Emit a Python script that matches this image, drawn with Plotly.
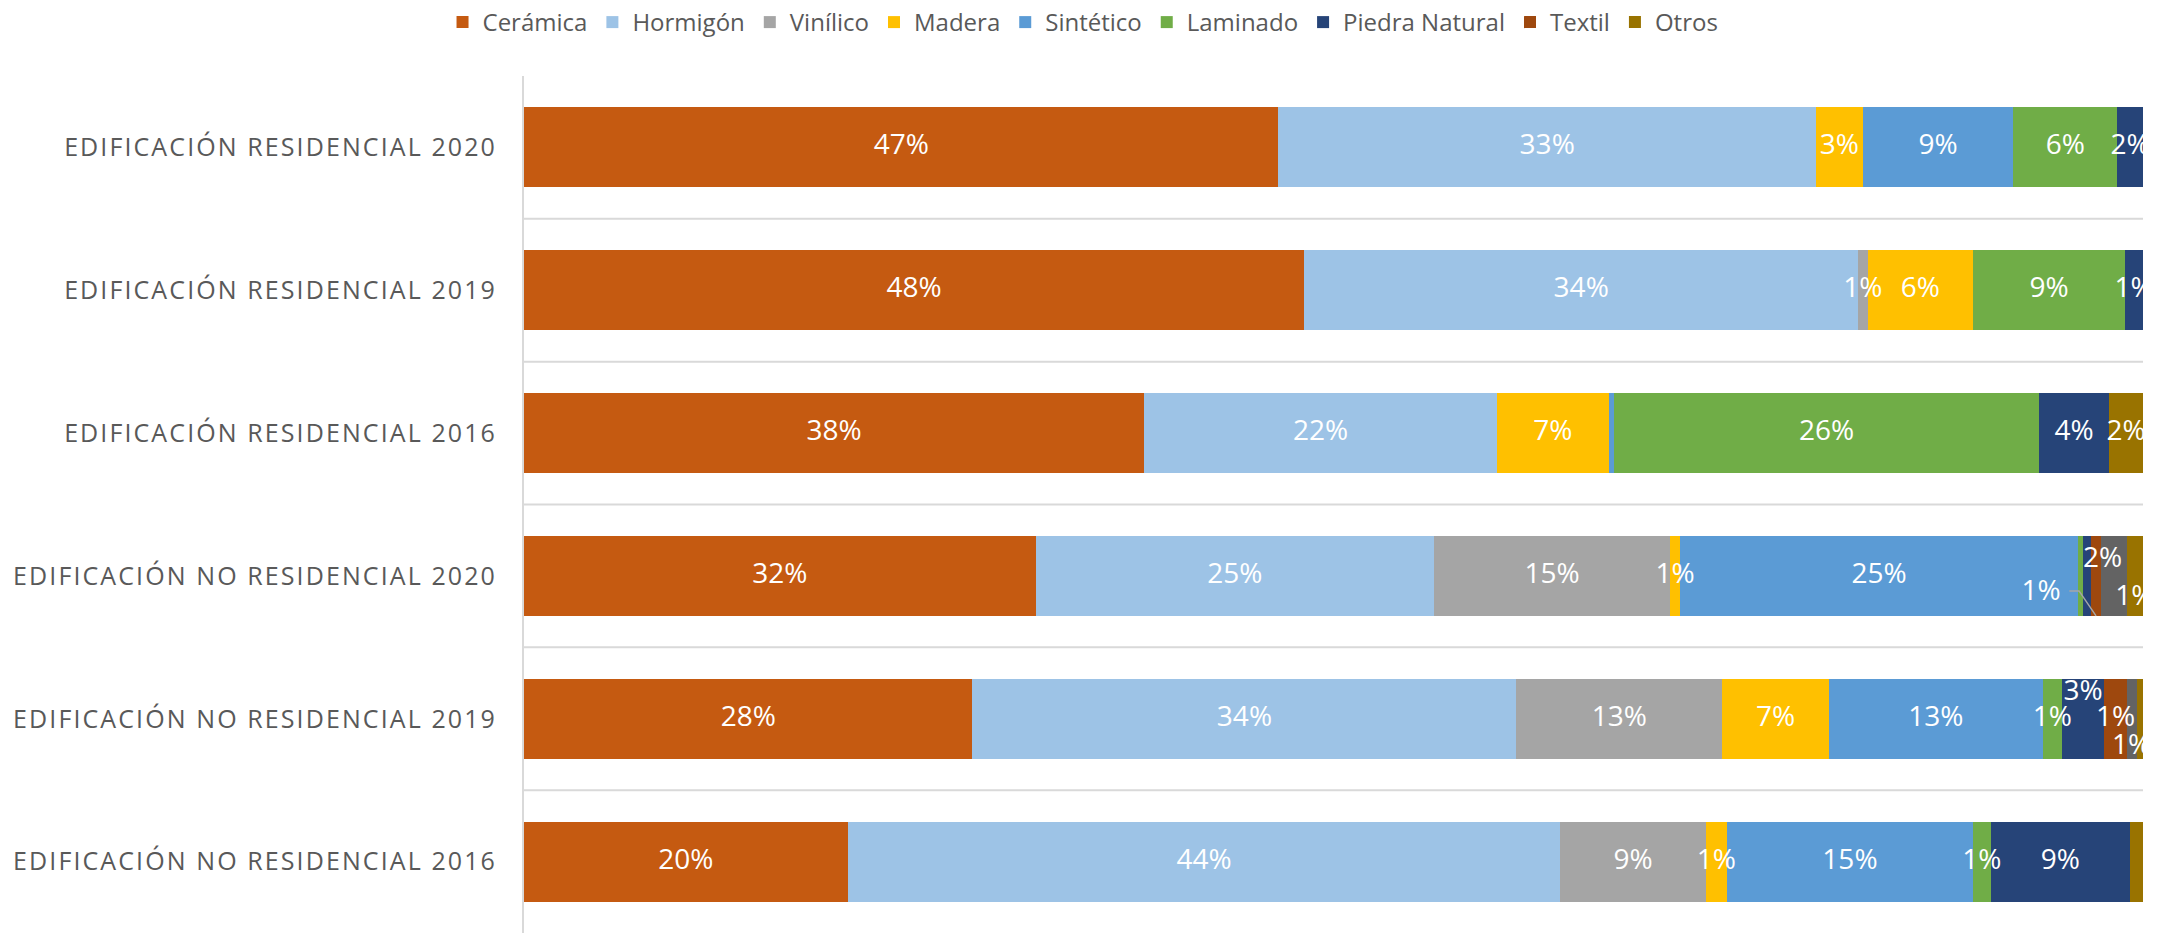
import plotly.graph_objects as go

# Rows, top to bottom
categories = [
    "EDIFICACIÓN RESIDENCIAL 2020",
    "EDIFICACIÓN RESIDENCIAL 2019",
    "EDIFICACIÓN RESIDENCIAL 2016",
    "EDIFICACIÓN NO RESIDENCIAL 2020",
    "EDIFICACIÓN NO RESIDENCIAL 2019",
    "EDIFICACIÓN NO RESIDENCIAL 2016",
]

# Share of each flooring material (%)
ceramica = [46.6, 48.2, 38.3, 31.6, 27.7, 20.0]
hormigon = [33.2, 34.2, 21.8, 24.6, 33.6, 44.0]
vinilico = [0.0, 0.6, 0.0, 14.6, 12.7, 9.0]
madera = [2.9, 6.5, 6.9, 0.6, 6.6, 1.3]
sintetico = [9.3, 0.0, 0.3, 24.6, 13.2, 15.2]
laminado = [6.4, 9.4, 26.3, 0.3, 1.2, 1.1]
piedra_natural = [1.6, 1.1, 4.3, 0.5, 2.6, 8.6]
textil = [0.0, 0.0, 0.0, 0.6, 1.4, 0.0]
resto = [0.0, 0.0, 0.0, 1.6, 0.6, 0.0]
otros = [0.0, 0.0, 2.1, 1.0, 0.4, 0.8]

series = [
    ("Cerámica", ceramica, "#C55A11", True),
    ("Hormigón", hormigon, "#9DC3E6", True),
    ("Vinílico", vinilico, "#A5A5A5", True),
    ("Madera", madera, "#FFC000", True),
    ("Sintético", sintetico, "#5B9BD5", True),
    ("Laminado", laminado, "#70AD47", True),
    ("Piedra Natural", piedra_natural, "#264478", True),
    ("Textil", textil, "#9E480E", True),
    ("Resto", resto, "#636363", False),
    ("Otros", otros, "#997300", True),
]

# labels that are left out, and labels moved off the segment centre (dx in %, dy in rows)
hidden = {(2, "Sintético"), (3, "Laminado"), (3, "Piedra Natural"), (4, "Otros"), (5, "Otros")}
moved = {
    (3, "Textil"): (-3.4, 0.12),
    (3, "Resto"): (-0.7, -0.11),
    (3, "Otros"): (0.0, 0.155),
    (4, "Piedra Natural"): (0.0, -0.18),
    (4, "Resto"): (0.0, 0.2),
}

BAR_W = 0.56
rows = list(range(len(categories)))

fig = go.Figure()
cum = [0.0] * len(categories)
lab_x, lab_y, lab_t = [], [], []
leader = None
for name, vals, color, in_legend in series:
    fig.add_trace(go.Bar(
        y=rows, x=vals, name=name, orientation="h", width=BAR_W,
        marker=dict(color=color, line=dict(width=0)),
        showlegend=in_legend, hoverinfo="x+name",
    ))
    for i, v in enumerate(vals):
        if v > 0 and (i, name) not in hidden:
            dx, dy = moved.get((i, name), (0.0, 0.0))
            mid = cum[i] + v / 2
            lab_x.append(mid + dx)
            lab_y.append(i + dy)
            lab_t.append(f"{round(v)}%")
            if (i, name) == (3, "Textil"):
                lx = mid + dx + 1.75
                leader = ([lx, lx + 0.6, mid], [i + 0.105, i + 0.105, i + BAR_W / 2])
        cum[i] += v

if leader:
    fig.add_trace(go.Scatter(
        x=leader[0], y=leader[1], mode="lines",
        line=dict(color="#A6A6A6", width=1.5),
        showlegend=False, hoverinfo="skip", cliponaxis=True,
    ))

fig.add_trace(go.Scatter(
    x=lab_x, y=lab_y, text=lab_t, mode="text",
    textfont=dict(family="Open Sans", size=28, color="white"),
    textposition="middle center",
    showlegend=False, hoverinfo="skip", cliponaxis=True,
))

# separators between categories
for k in range(len(categories) - 1):
    fig.add_shape(type="line", xref="x", yref="y", x0=0, x1=100, y0=k + 0.5, y1=k + 0.5,
                  line=dict(color="#D9D9D9", width=2), layer="below")

fig.update_layout(
    width=2157, height=933,
    barmode="stack",
    paper_bgcolor="white", plot_bgcolor="white",
    margin=dict(l=524, r=14, t=76, b=0),
    font=dict(family="Open Sans", color="#595959"),
    legend=dict(
        orientation="h", xref="container", yref="container",
        x=0.5021, xanchor="center", y=1.0, yanchor="top",
        font=dict(family="Open Sans", size=24, color="#595959"),
        traceorder="normal", itemclick=False, itemdoubleclick=False,
    ),
    xaxis=dict(range=[0, 100], showgrid=False, zeroline=False, showticklabels=False,
               showline=False, ticks="", fixedrange=True),
    yaxis=dict(
        range=[5.5, -0.5], tickmode="array", tickvals=rows,
        ticktext=[f'<span style="letter-spacing:2.1px">{c}</span>' for c in categories],
        tickfont=dict(family="Open Sans", size=25, color="#595959"),
        ticks="", ticklabelstandoff=20, showgrid=False, zeroline=False,
        showline=True, linecolor="#D9D9D9", linewidth=2, fixedrange=True,
    ),
    showlegend=True,
)

fig.write_html("out.html")
